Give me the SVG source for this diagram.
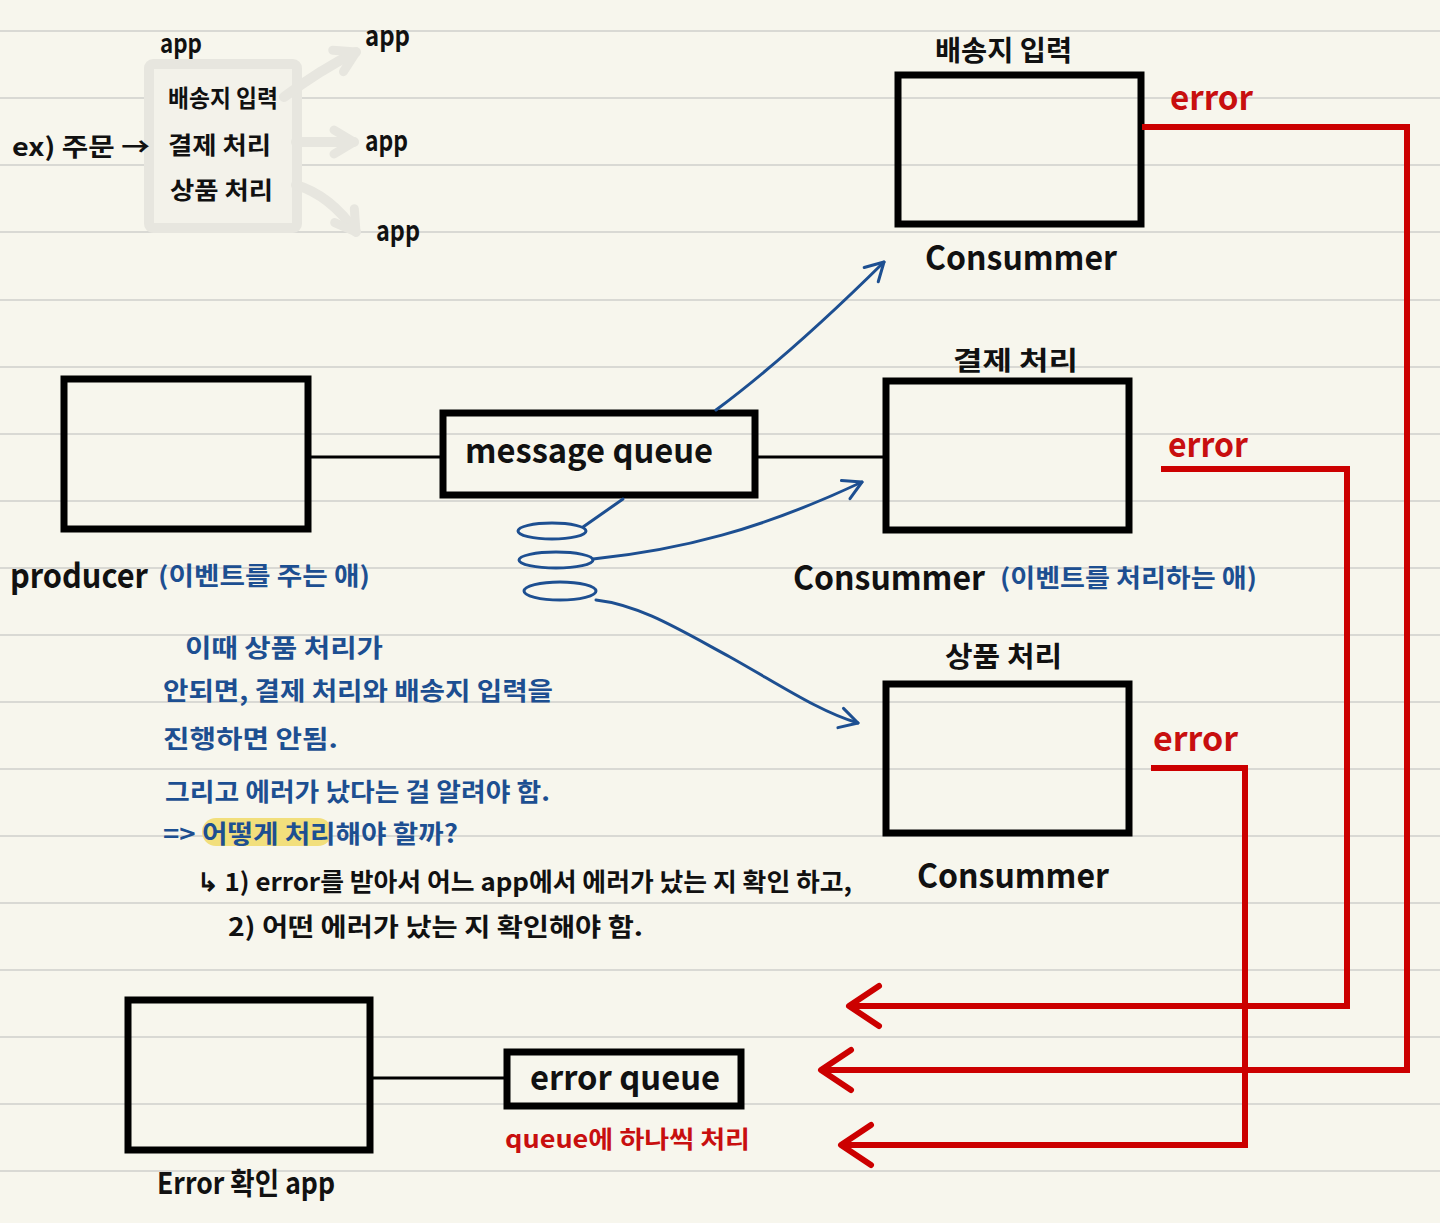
<svg xmlns="http://www.w3.org/2000/svg" width="1440" height="1223" viewBox="0 0 1440 1223">
<defs>
<style>
.t{font-family:"Noto Sans CJK KR","Noto Sans",sans-serif;font-weight:700}
.k{fill:#111}
.b{fill:#1d4f91}
.r{fill:#c80f0f}
.box{fill:none;stroke:#000;stroke-width:7;stroke-linejoin:miter}
.ln{stroke:#000;stroke-width:3;fill:none}
.blue{stroke:#1d4f91;stroke-width:3;fill:none;stroke-linecap:round}
.red{stroke:#cc0000;stroke-width:6;fill:none;stroke-linejoin:miter}
.rule{stroke:#d9d9d4;stroke-width:2}
.faint{stroke:#e7e6df;stroke-width:10;fill:none;stroke-linecap:round}
</style>
<marker id="ar" markerUnits="userSpaceOnUse" viewBox="-2 -2 34 44" refX="30" refY="20" markerWidth="34" markerHeight="44" orient="auto" overflow="visible">
<path d="M0,0 L30,20 L0,40" fill="none" stroke="#cc0000" stroke-width="6" stroke-linecap="round" stroke-linejoin="round"/>
</marker>
<marker id="ab" markerUnits="userSpaceOnUse" viewBox="-2 -2 22 24" refX="18" refY="10" markerWidth="22" markerHeight="24" orient="auto" overflow="visible">
<path d="M0,0 L18,10 L0,20" fill="none" stroke="#1d4f91" stroke-width="3" stroke-linecap="round" stroke-linejoin="round"/>
</marker>
<marker id="af" markerUnits="userSpaceOnUse" viewBox="-2 -2 24 28" refX="20" refY="12" markerWidth="24" markerHeight="28" orient="auto" overflow="visible">
<path d="M0,0 L20,12 L0,24" fill="none" stroke="#e7e6df" stroke-width="9" stroke-linecap="round" stroke-linejoin="round"/>
</marker>
</defs>
<rect x="0" y="0" width="1440" height="1223" fill="#f7f6ed"/>
<g id="rules">
<line class="rule" x1="0" y1="31" x2="1440" y2="31"/>
<line class="rule" x1="0" y1="98" x2="1440" y2="98"/>
<line class="rule" x1="0" y1="165" x2="1440" y2="165"/>
<line class="rule" x1="0" y1="232" x2="1440" y2="232"/>
<line class="rule" x1="0" y1="300" x2="1440" y2="300"/>
<line class="rule" x1="0" y1="367" x2="1440" y2="367"/>
<line class="rule" x1="0" y1="434" x2="1440" y2="434"/>
<line class="rule" x1="0" y1="501" x2="1440" y2="501"/>
<line class="rule" x1="0" y1="568" x2="1440" y2="568"/>
<line class="rule" x1="0" y1="635" x2="1440" y2="635"/>
<line class="rule" x1="0" y1="702" x2="1440" y2="702"/>
<line class="rule" x1="0" y1="769" x2="1440" y2="769"/>
<line class="rule" x1="0" y1="836" x2="1440" y2="836"/>
<line class="rule" x1="0" y1="903" x2="1440" y2="903"/>
<line class="rule" x1="0" y1="970" x2="1440" y2="970"/>
<line class="rule" x1="0" y1="1037" x2="1440" y2="1037"/>
<line class="rule" x1="0" y1="1104" x2="1440" y2="1104"/>
<line class="rule" x1="0" y1="1171" x2="1440" y2="1171"/>
</g>
<g id="example">
<rect x="149" y="64" width="148" height="164" rx="4" fill="#f3f2ea" stroke="#e7e6df" stroke-width="10"/>
<path class="faint" d="M284,97 Q320,70 356,52" marker-end="url(#af)"/>
<path class="faint" d="M296,142 L354,142" marker-end="url(#af)"/>
<path class="faint" d="M296,185 Q330,195 356,232" marker-end="url(#af)"/>
<text class="t k" x="160" y="53" font-size="26" textLength="42" lengthAdjust="spacingAndGlyphs">app</text>
<text class="t k" x="365" y="46" font-size="28" textLength="45" lengthAdjust="spacingAndGlyphs">app</text>
<text class="t k" x="365" y="151" font-size="28" textLength="43" lengthAdjust="spacingAndGlyphs">app</text>
<text class="t k" x="376" y="241" font-size="28" textLength="44" lengthAdjust="spacingAndGlyphs">app</text>
<text class="t k" x="168" y="107" font-size="24" textLength="110" lengthAdjust="spacingAndGlyphs">배송지 입력</text>
<text class="t k" x="168" y="154" font-size="24" textLength="103" lengthAdjust="spacingAndGlyphs">결제 처리</text>
<text class="t k" x="170" y="199" font-size="24" textLength="103" lengthAdjust="spacingAndGlyphs">상품 처리</text>
<text class="t k" x="12" y="156" font-size="25" textLength="138" lengthAdjust="spacingAndGlyphs">ex) 주문 →</text>
</g>
<g id="producer">
<rect class="box" x="64" y="379" width="244" height="150"/>
<text class="t k" x="10" y="588" font-size="34" font-weight="500" textLength="138" lengthAdjust="spacingAndGlyphs">producer</text>
<text class="t b" x="158" y="585" font-size="25" textLength="212" lengthAdjust="spacingAndGlyphs">(이벤트를 주는 애)</text>
</g>
<g id="message-queue">
<rect class="box" x="443" y="413" width="312" height="82"/>
<text class="t k" x="465" y="463" font-size="34" font-weight="500" textLength="248" lengthAdjust="spacingAndGlyphs">message queue</text>
</g>
<g id="consumer-shipping">
<rect class="box" x="898" y="75" width="243" height="149"/>
<text class="t k" x="935" y="61" font-size="28" textLength="137" lengthAdjust="spacingAndGlyphs">배송지 입력</text>
<text class="t k" x="925" y="270" font-size="34" font-weight="500" textLength="192" lengthAdjust="spacingAndGlyphs">Consummer</text>
</g>
<g id="consumer-payment">
<rect class="box" x="886" y="381" width="243" height="149"/>
<text class="t k" x="953" y="370" font-size="26" textLength="125" lengthAdjust="spacingAndGlyphs">결제 처리</text>
<text class="t k" x="793" y="590" font-size="34" font-weight="500" textLength="192" lengthAdjust="spacingAndGlyphs">Consummer</text>
<text class="t b" x="1000" y="587" font-size="25" textLength="257" lengthAdjust="spacingAndGlyphs">(이벤트를 처리하는 애)</text>
</g>
<g id="consumer-product">
<rect class="box" x="886" y="684" width="243" height="149"/>
<text class="t k" x="945" y="667" font-size="28" textLength="117" lengthAdjust="spacingAndGlyphs">상품 처리</text>
<text class="t k" x="917" y="888" font-size="34" font-weight="500" textLength="192" lengthAdjust="spacingAndGlyphs">Consummer</text>
</g>
<g id="error-app">
<rect class="box" x="128" y="1000" width="242" height="150"/>
<text class="t k" x="157" y="1194" font-size="30" font-weight="500" textLength="178" lengthAdjust="spacingAndGlyphs">Error 확인 app</text>
</g>
<g id="error-queue">
<rect class="box" x="507" y="1052" width="234" height="54" stroke-width="6"/>
<text class="t k" x="530" y="1090" font-size="34" font-weight="500" textLength="190" lengthAdjust="spacingAndGlyphs">error queue</text>
<text class="t r" x="505" y="1148" font-size="24" textLength="245" lengthAdjust="spacingAndGlyphs">queue에 하나씩 처리</text>
</g>
<g id="notes">
<rect x="202" y="818" width="130" height="28" rx="14" fill="#f2df7c"/>
<text class="t b" x="185" y="657" font-size="25" textLength="198" lengthAdjust="spacingAndGlyphs">이때 상품 처리가</text>
<text class="t b" x="163" y="700" font-size="25" textLength="390" lengthAdjust="spacingAndGlyphs">안되면, 결제 처리와 배송지 입력을</text>
<text class="t b" x="163" y="748" font-size="25" textLength="175" lengthAdjust="spacingAndGlyphs">진행하면 안됨.</text>
<text class="t b" x="165" y="801" font-size="25" textLength="385" lengthAdjust="spacingAndGlyphs">그리고 에러가 났다는 걸 알려야 함.</text>
<text class="t b" x="163" y="843" font-size="25" textLength="295" lengthAdjust="spacingAndGlyphs">=&gt; 어떻게 처리해야 할까?</text>
<text class="t k" x="197" y="891" font-size="25" textLength="655" lengthAdjust="spacingAndGlyphs">↳ 1) error를 받아서 어느 app에서 에러가 났는 지 확인 하고,</text>
<text class="t k" x="228" y="936" font-size="25" textLength="415" lengthAdjust="spacingAndGlyphs">2) 어떤 에러가 났는 지 확인해야 함.</text>
</g>
<g id="errors">
<text class="t r" x="1170" y="110" font-size="34" font-weight="500" textLength="83" lengthAdjust="spacingAndGlyphs">error</text>
<text class="t r" x="1168" y="457" font-size="34" font-weight="500" textLength="80" lengthAdjust="spacingAndGlyphs">error</text>
<text class="t r" x="1153" y="751" font-size="34" font-weight="500" textLength="85" lengthAdjust="spacingAndGlyphs">error</text>
</g>
<g id="connectors">
<line class="ln" x1="308" y1="457" x2="443" y2="457"/>
<line class="ln" x1="755" y1="457" x2="886" y2="457"/>
<line class="ln" x1="370" y1="1078" x2="507" y2="1078"/>
<path class="blue" d="M716,410 Q790,355 884,262" marker-end="url(#ab)"/>
<line class="blue" x1="623" y1="499" x2="583" y2="527"/>
<ellipse class="blue" cx="552" cy="531" rx="34" ry="8"/>
<ellipse class="blue" cx="556" cy="560" rx="37" ry="8"/>
<ellipse class="blue" cx="560" cy="591" rx="36" ry="9"/>
<path class="blue" d="M593,559 C680,550 760,530 862,482" marker-end="url(#ab)"/>
<path class="blue" d="M596,600 C640,605 680,630 730,657 C780,685 820,712 858,723" marker-end="url(#ab)"/>
<path class="red" d="M1142,127 H1407 V1070 H821" marker-end="url(#ar)"/>
<path class="red" d="M1161,469 H1347 V1006 H849" marker-end="url(#ar)"/>
<path class="red" d="M1151,768 H1245 V1145 H841" marker-end="url(#ar)"/>
</g>
</svg>
